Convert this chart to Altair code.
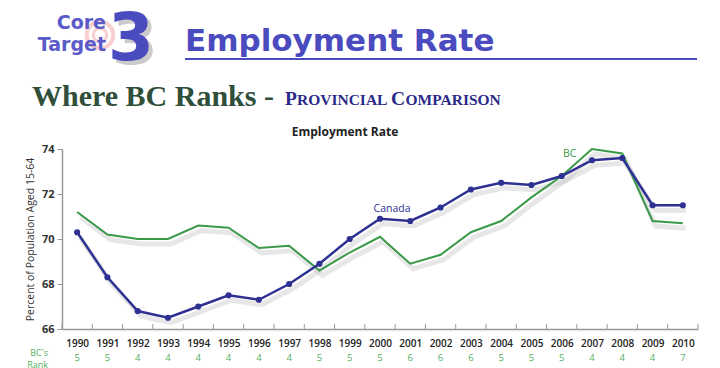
import altair as alt
import pandas as pd

# ---- data ----
years = list(range(1990, 2011))
canada = [70.3, 68.3, 66.8, 66.5, 67.0, 67.5, 67.3, 68.0, 68.9, 70.0, 70.9,
          70.8, 71.4, 72.2, 72.5, 72.4, 72.8, 73.5, 73.6, 71.5, 71.5]
bc = [71.2, 70.2, 70.0, 70.0, 70.6, 70.5, 69.6, 69.7, 68.6, 69.4, 70.1,
      68.9, 69.3, 70.3, 70.8, 71.85, 72.8, 74.0, 73.8, 70.8, 70.7]
bc_rank = [5, 5, 4, 4, 4, 4, 4, 4, 5, 5, 5, 6, 6, 6, 5, 5, 5, 4, 4, 4, 7]
y_ticks = [66, 68, 70, 72, 74]
tick_bounds = [y + 0.5 for y in range(1989, 2011)]

W, H = 636, 180
BLUE = "#2e3192"
GREEN = "#3a9a48"
HEAD = "#4b4bc0"
RANKG = "#55b060"

df = pd.DataFrame({"year": years, "Canada": canada, "BC": bc, "rank": bc_rank})
ticks_df = pd.DataFrame({"b": tick_bounds})

xs = alt.Scale(domain=[1989.5, 2010.5], nice=False, zero=False)
ys = alt.Scale(domain=[66, 74], nice=False, zero=False)

x_axis = alt.Axis(values=years, format="d", ticks=False, domainColor="#999",
                  domainWidth=1.5, labelFont="Open Sans", labelFontSize=10,
                  labelFontWeight=600, labelColor="#222", labelPadding=9,
                  title=None, grid=False)
y_axis = alt.Axis(values=y_ticks, tickSize=5, tickColor="#999", domainColor="#999",
                  domainWidth=1.5, labelFont="Open Sans", labelFontSize=11,
                  labelFontWeight="bold", labelColor="#333", labelPadding=3,
                  title="Percent of Population Aged 15-64", titleFont="Open Sans",
                  titleFontSize=10.5, titleFontWeight="normal", titleColor="#333",
                  titlePadding=6, grid=False)

X = alt.X("year:Q", scale=xs, axis=x_axis)
base = alt.Chart(df)

can_shadow = base.mark_line(color="#bbbbbb", strokeWidth=5, opacity=0.35,
                            xOffset=3, yOffset=5).encode(
    x=X, y=alt.Y("Canada:Q", scale=ys, axis=y_axis))
bc_shadow = base.mark_line(color="#bbbbbb", strokeWidth=5, opacity=0.35,
                           xOffset=3, yOffset=5).encode(
    x=X, y=alt.Y("BC:Q", scale=ys, axis=y_axis))
bc_line = base.mark_line(color=GREEN, strokeWidth=2).encode(
    x=X, y=alt.Y("BC:Q", scale=ys, axis=y_axis))
can_line = base.mark_line(color=BLUE, strokeWidth=2.5).encode(
    x=X, y=alt.Y("Canada:Q", scale=ys, axis=y_axis))
can_pts = base.mark_circle(size=38, color=BLUE, opacity=1).encode(
    x=X, y=alt.Y("Canada:Q", scale=ys, axis=y_axis))

xticks = alt.Chart(ticks_df).mark_rule(color="#999", strokeWidth=1).encode(
    x=alt.X("b:Q", scale=xs, axis=x_axis), y=alt.value(H - 5), y2=alt.value(H))

ranks = base.mark_text(color=RANKG, font="Open Sans", fontSize=9.5).encode(
    x=X, y=alt.value(H + 29), text="rank:N")

can_lab = alt.Chart(df[df.year == 2000]).mark_text(
    color=BLUE, font="Open Sans", fontSize=10.5, dx=12, dy=-10).encode(
    x=X, y=alt.Y("Canada:Q", scale=ys, axis=y_axis), text=alt.value("Canada"))
bc_lab = alt.Chart(df[df.year == 2006]).mark_text(
    color=GREEN, font="Open Sans", fontSize=10.5, dx=8, dy=-22).encode(
    x=X, y=alt.Y("BC:Q", scale=ys, axis=y_axis), text=alt.value("BC"))


def note(text, x, y, **kw):
    return alt.Chart(pd.DataFrame({"t": [text]})).mark_text(**kw).encode(
        x=alt.value(x), y=alt.value(y), text="t:N")


one = pd.DataFrame({"t": [""]})
target = alt.Chart(one).mark_point(shape="circle", size=700, stroke="#e88", strokeWidth=4,
                                   opacity=0.4, filled=False).encode(
    x=alt.value(38), y=alt.value(-114))
target2 = alt.Chart(one).mark_point(shape="circle", size=180, stroke="#e88", strokeWidth=3,
                                    opacity=0.4, filled=False).encode(
    x=alt.value(38), y=alt.value(-114))

SERIF = dict(font="Liberation Serif", fontWeight="bold", color="#2a2a8a",
             align="left", baseline="alphabetic")

annotations = [
    target, target2,
    note("Core", 44, -126, font="DejaVu Sans", fontSize=19, fontWeight="bold",
         color="#5a5ac8", align="right"),
    note("Target", 44, -104, font="DejaVu Sans", fontSize=19, fontWeight="bold",
         color="#5a5ac8", align="right"),
    note("3", 50, -85, font="DejaVu Sans", fontSize=66, fontWeight="bold",
         color="#999", align="left", baseline="alphabetic", opacity=0.5),
    note("3", 46, -89, font="DejaVu Sans", fontSize=66, fontWeight="bold",
         color=HEAD, align="left", baseline="alphabetic"),
    note("Employment Rate", 123, -107, font="DejaVu Sans", fontSize=31,
         fontWeight="bold", color=HEAD, align="left"),
    note("Where BC Ranks -", -30, -52, font="Liberation Serif", fontSize=30,
         fontWeight="bold", color="#2f4f3a", align="left"),
    note("P", 223, -44, fontSize=19.5, **SERIF),
    note("ROVINCIAL", 235, -44, fontSize=15.5, **SERIF),
    note("C", 329, -44, fontSize=19.5, **SERIF),
    note("OMPARISON", 343.5, -44, fontSize=15.5, **SERIF),
    note("Employment Rate", 283, -17, font="Open Sans", fontSize=12,
         fontWeight="bold", color="#222", align="center"),
    note("BC's", -14, H + 24, font="Open Sans", fontSize=9, color=RANKG,
         align="right"),
    note("Rank", -14, H + 36, font="Open Sans", fontSize=9, color=RANKG,
         align="right"),
]

underline = alt.Chart(one).mark_rule(color=HEAD, strokeWidth=2).encode(
    x=alt.value(123), x2=alt.value(635), y=alt.value(-90))

chart = alt.layer(
    can_shadow, bc_shadow, bc_line, can_line, can_pts, xticks, ranks, can_lab, bc_lab,
    underline, *annotations
).properties(
    width=W, height=H,
    autosize=alt.AutoSizeParams(type="none"),
    padding={"left": 54, "top": 141, "right": 14, "bottom": 39},
    background="white",
).configure_view(stroke=None)

chart.save("out.html", embed_options={"renderer": "svg", "actions": False})
